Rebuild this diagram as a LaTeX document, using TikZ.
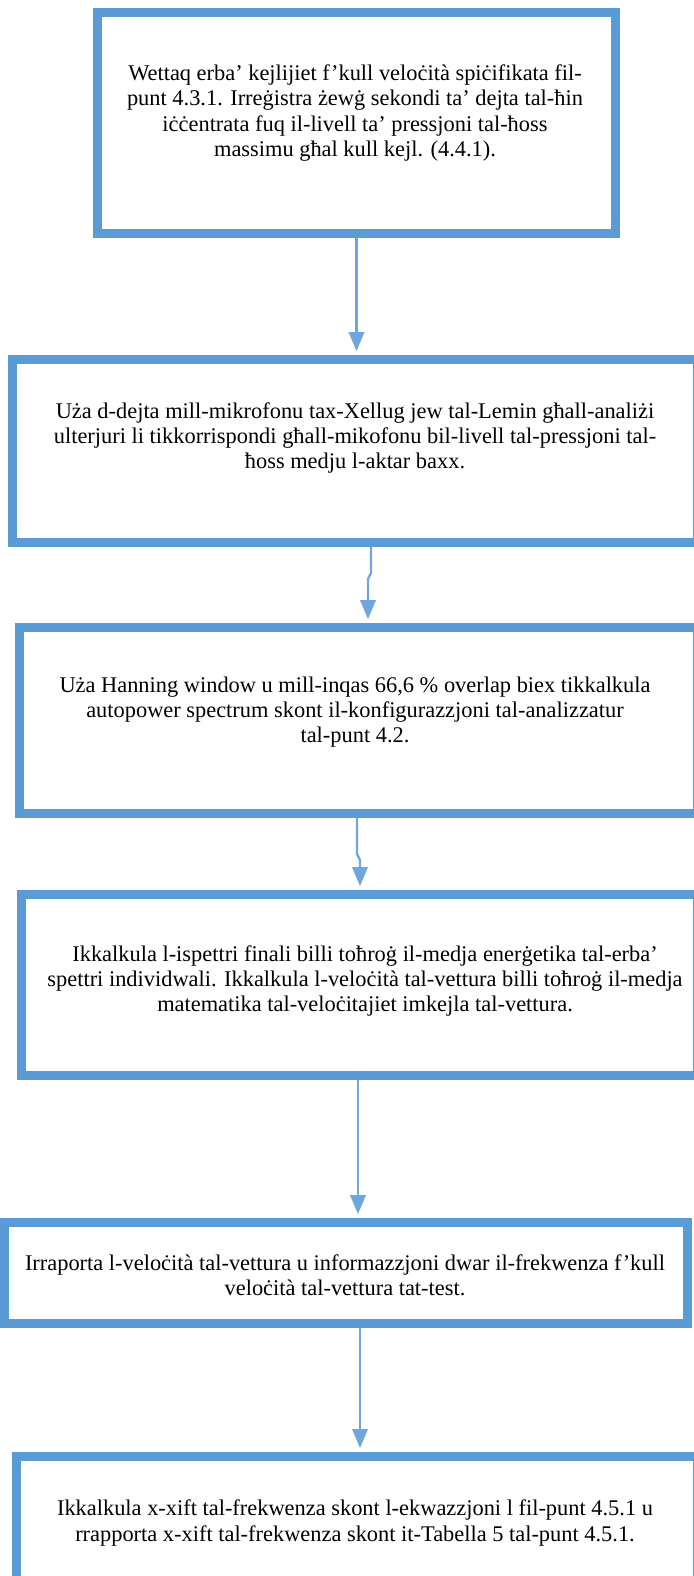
\documentclass[tikz,border=0pt]{standalone}
\usepackage{fontspec}
\setmainfont{Liberation Serif}
\usepackage{tikz}
\usepackage{color}
\usetikzlibrary{arrows}
\definecolor{boxblue}{RGB}{91,155,213}
\definecolor{arrowblue}{RGB}{111,167,221}
\tikzstyle{stepbox} = [draw=boxblue,line width=4.5pt,fill=white,inner sep=0pt]
\tikzstyle{steptext} = [align=center,inner sep=0pt,font=\fontsize{11.2}{12.6}\selectfont]
\tikzstyle{arrow} = [line width=1.2pt,->,>=triangle 45,color=arrowblue,shorten >=2pt]

\begin{document}
\begin{tikzpicture}[x=0.5pt,y=-0.5pt]
\clip (0,0) rectangle (694,1576);

% boxes
\node[stepbox,minimum width=259pt,minimum height=110.5pt] (b1) at (356.5,123) {};
\node[stepbox,minimum width=342.5pt,minimum height=91.5pt] (b2) at (355,451) {};
\node[stepbox,minimum width=339pt,minimum height=93pt] (b3) at (358.5,720.5) {};
\node[stepbox,minimum width=338pt,minimum height=90.5pt] (b4) at (359.5,985) {};
\node[stepbox,minimum width=341.5pt,minimum height=50.5pt] (b5) at (346,1273) {};
\node[stepbox,minimum width=340.5pt,minimum height=69.5pt] (b6) at (357,1526) {};

% texts
\node[steptext] (t1) at (355,113) {Wettaq erba’ kejlijiet f’kull veloċità spiċifikata fil-\\punt 4.3.1. Irreġistra żewġ sekondi ta’ dejta tal-ħin\\iċċentrata fuq il-livell ta’ pressjoni tal-ħoss\\massimu għal kull kejl. (4.4.1).};
\node[steptext] (t2) at (355,438) {Uża d-dejta mill-mikrofonu tax-Xellug jew tal-Lemin għall-analiżi\\ulterjuri li tikkorrispondi għall-mikofonu bil-livell tal-pressjoni tal-\\ħoss medju l-aktar baxx.};
\node[steptext] (t3) at (355,712) {Uża Hanning window u mill-inqas 66,6 \% overlap biex tikkalkula\\autopower spectrum skont il-konfigurazzjoni tal-analizzatur\\tal-punt 4.2.};
\node[steptext] (t4) at (365,981) {Ikkalkula l-ispettri finali billi toħroġ il-medja enerġetika tal-erba’\\spettri individwali. Ikkalkula l-veloċità tal-vettura billi toħroġ il-medja\\matematika tal-veloċitajiet imkejla tal-vettura.};
\node[steptext] (t5) at (345,1275) {Irraporta l-veloċità tal-vettura u informazzjoni dwar il-frekwenza f’kull\\veloċità tal-vettura tat-test.};
\node[steptext] (t6) at (355,1523) {Ikkalkula x-xift tal-frekwenza skont l-ekwazzjoni l fil-punt 4.5.1 u\\rrapporta x-xift tal-frekwenza skont it-Tabella 5 tal-punt 4.5.1.};

% arrows
\draw[arrow] (b1.south) -- (b1.south |- b2.north);
\draw[arrow] ([xshift=8pt]b2.south) -- ++(0,-13pt) -- ++(-1.5pt,-3pt) -- ([xshift=4.75pt]b3.north);
\draw[arrow] ([xshift=-0.75pt]b3.south) -- ++(0,-18pt) -- ++(1.5pt,-3pt) -- ([xshift=0.25pt]b4.north);
\draw[arrow] ([xshift=-0.75pt]b4.south) -- ([xshift=6pt]b5.north);
\draw[arrow] ([xshift=7pt]b5.south) -- ([xshift=1.5pt]b6.north);

\end{tikzpicture}
\end{document}
